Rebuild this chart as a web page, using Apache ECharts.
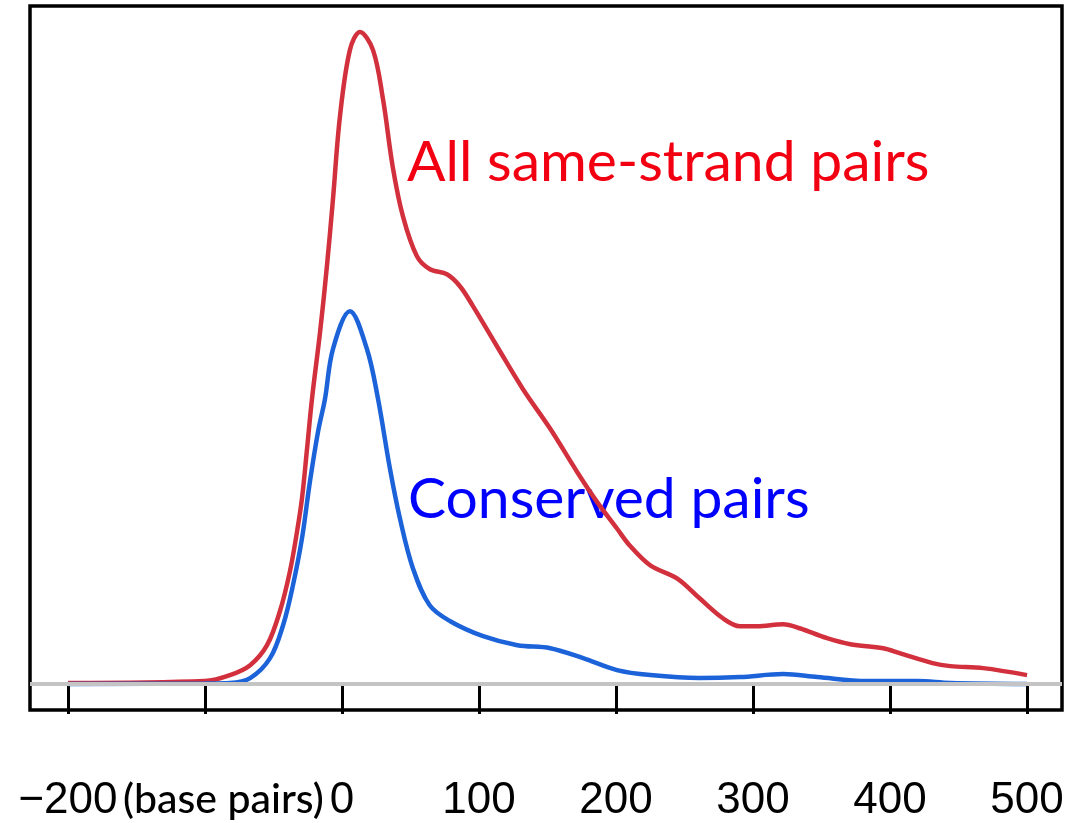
<!DOCTYPE html>
<html><head><meta charset="utf-8">
<script src="https://cdn.jsdelivr.net/npm/echarts@6/dist/echarts.min.js"></script>
<style>html,body{margin:0;padding:0;background:#fff}#c{width:1070px;height:823px}</style>
</head><body><div id="c"></div>
<script>
// Distance (base pairs) and density (arbitrary units)
const redBp = [-200,-100,-81.8,-67,-54.7,-45.3,-38,-32.8,-29.2,-25.5,-21.9,-16,-11,-6.6,-1.5,5.8,13.1,22.6,30,37,44.5,54.7,64.2,76.6,86.1,95.6,113,132,152,171.5,186,200.7,210,225,244.5,261,278,290.5,303,322,334,354,371,395,407,431,444,468,500];
const redDensity = [0.01,0.03,0.09,0.19,0.39,0.73,1.13,1.53,1.86,2.36,2.86,3.53,4.19,4.86,5.69,6.36,6.54,6.36,5.86,5.19,4.69,4.29,4.16,4.11,3.99,3.79,3.39,2.96,2.56,2.13,1.83,1.56,1.39,1.19,1.06,0.86,0.66,0.58,0.58,0.60,0.56,0.46,0.40,0.36,0.31,0.21,0.18,0.16,0.09];
const blueBp = [-200,-100,-81.8,-67,-52.5,-43,-35.8,-29.2,-23.4,-17.5,-12.4,-6.6,5.8,18.2,26.3,35,42.3,51.8,64,79,103,128,152,176,200.7,225,261,290.5,322,347,383,420,444,500];
const blueDensity = [0.00,0.005,0.01,0.06,0.26,0.59,0.99,1.46,2.03,2.53,2.86,3.36,3.74,3.36,2.86,2.16,1.66,1.16,0.79,0.63,0.48,0.39,0.36,0.26,0.14,0.09,0.06,0.07,0.10,0.07,0.03,0.03,0.01,0.00];
const xTicks = [-200,-100,0,100,200,300,400,500];
const xTickLabels = [-200,0,100,200,300,400,500];
const labelAll = 'All same-strand pairs';
const labelConserved = 'Conserved pairs';
const unitLabel = '(base pairs)';

const zip = (a,b) => a.map((v,i)=>[v,b[i]]);
const chart = echarts.init(document.getElementById('c'));
chart.setOption({
  animation:false,
  backgroundColor:'#fff',
  grid:{left:30,right:8,top:6,bottom:111,show:true,borderColor:'#000',borderWidth:3.5,backgroundColor:'transparent'},
  xAxis:{type:'value',min:-227.7,max:525.5,
    axisLine:{show:false},
    splitLine:{show:false},
    axisTick:{show:true,length:30,inside:false,lineStyle:{color:'#000',width:3},customValues:xTicks},
    axisLabel:{show:true,customValues:xTickLabels,margin:69,color:'#000',fontFamily:'Liberation Sans',fontSize:44,
      formatter:v=> v<0 ? '\u2212'+Math.abs(v) : String(v)}
  },
  yAxis:{type:'value',min:-0.26,max:6.8,show:false,splitLine:{show:false}},
  series:[
    {type:'line',data:[],markLine:{silent:true,symbol:'none',label:{show:false},lineStyle:{color:'#c4c4c4',width:4,type:'solid'},data:[{yAxis:0}]},z:1},
    {type:'line',data:zip(redBp,redDensity),smooth:0.35,showSymbol:false,lineStyle:{color:'#d2303d',width:4.5},z:3},
    {type:'line',data:zip(blueBp,blueDensity),smooth:0.35,showSymbol:false,lineStyle:{color:'#1c63d9',width:4.5},z:4}
  ],
  graphic:[
    {type:'text',left:407,top:134,style:{text:labelAll,fill:'#f20012',font:'57px Lato'}},
    {type:'text',left:408,top:471,style:{text:labelConserved,fill:'#0000ff',font:'57px Lato'}},
    {type:'text',left:123,top:779,style:{text:unitLabel,fill:'#000',font:'500 41px Lato'}}
  ]
});
</script></body></html>
